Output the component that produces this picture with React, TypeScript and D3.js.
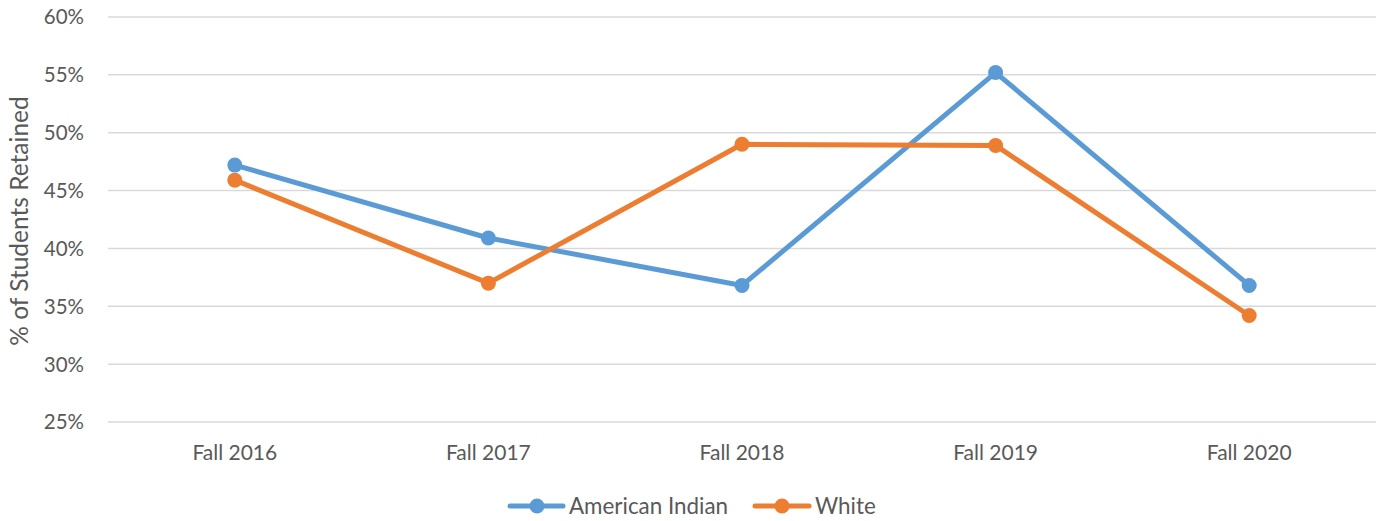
import React from "react";
import * as d3 from "d3";

const categories = ["Fall 2016", "Fall 2017", "Fall 2018", "Fall 2019", "Fall 2020"];
const americanIndian = [47.2, 40.9, 36.8, 55.2, 36.8];
const white = [45.9, 37.0, 49.0, 48.9, 34.2];
const yTicks = [25, 30, 35, 40, 45, 50, 55, 60];

const series = [
  { name: "American Indian", values: americanIndian, color: "#5b9bd5" },
  { name: "White", values: white, color: "#ed7d31" },
];

const W = 1382;
const H = 521;
const margin = { top: 17, right: 6, bottom: 99, left: 108 };
const font = "Lato, 'Open Sans', sans-serif";
const textColor = "#595959";

export default function App() {
  const innerW = W - margin.left - margin.right;
  const innerH = H - margin.top - margin.bottom;

  const x = d3.scaleBand<string>().domain(categories).range([0, innerW]);
  const y = d3.scaleLinear().domain([25, 60]).range([innerH, 0]);

  const line = d3
    .line<number>()
    .x((_, i) => x(categories[i])! + x.bandwidth() / 2)
    .y((d) => y(d));

  return (
    <svg
      width={W}
      height={H}
      style={{ position: "absolute", left: 0, top: 0, background: "#fff" }}
      fontFamily={font}
    >
      <g transform={`translate(${margin.left},${margin.top})`}>
        {yTicks.map((t) => (
          <g key={t}>
            <line x1={0} x2={innerW} y1={y(t)} y2={y(t)} stroke="#d9d9d9" strokeWidth={1.5} />
            <text x={-24} y={y(t)} dy="0.36em" textAnchor="end" fontSize={20.5} fill={textColor}>
              {t}%
            </text>
          </g>
        ))}
        {categories.map((c) => (
          <text
            key={c}
            x={x(c)! + x.bandwidth() / 2}
            y={innerH + 38}
            textAnchor="middle"
            fontSize={21}
            fill={textColor}
          >
            {c}
          </text>
        ))}
        {series.map((s) => (
          <g key={s.name}>
            <path d={line(s.values)!} fill="none" stroke={s.color} strokeWidth={5} strokeLinejoin="round" />
            {s.values.map((v, i) => (
              <circle key={i} cx={x(categories[i])! + x.bandwidth() / 2} cy={y(v)} r={7.5} fill={s.color} />
            ))}
          </g>
        ))}
      </g>
      <text
        transform="translate(28,221) rotate(-90)"
        textAnchor="middle"
        fontSize={24.5}
        fill={textColor}
      >
        % of Students Retained
      </text>
      <g transform="translate(510,506)">
        <line x1={0} x2={53} y1={0} y2={0} stroke={series[0].color} strokeWidth={5} strokeLinecap="round" />
        <circle cx={27} cy={0} r={7.5} fill={series[0].color} />
        <text x={59} y={0} dy="0.35em" fontSize={22.4} fill={textColor}>
          {series[0].name}
        </text>
        <line x1={245} x2={299} y1={0} y2={0} stroke={series[1].color} strokeWidth={5} strokeLinecap="round" />
        <circle cx={272} cy={0} r={7.5} fill={series[1].color} />
        <text x={305} y={0} dy="0.35em" fontSize={22.4} fill={textColor}>
          {series[1].name}
        </text>
      </g>
    </svg>
  );
}
